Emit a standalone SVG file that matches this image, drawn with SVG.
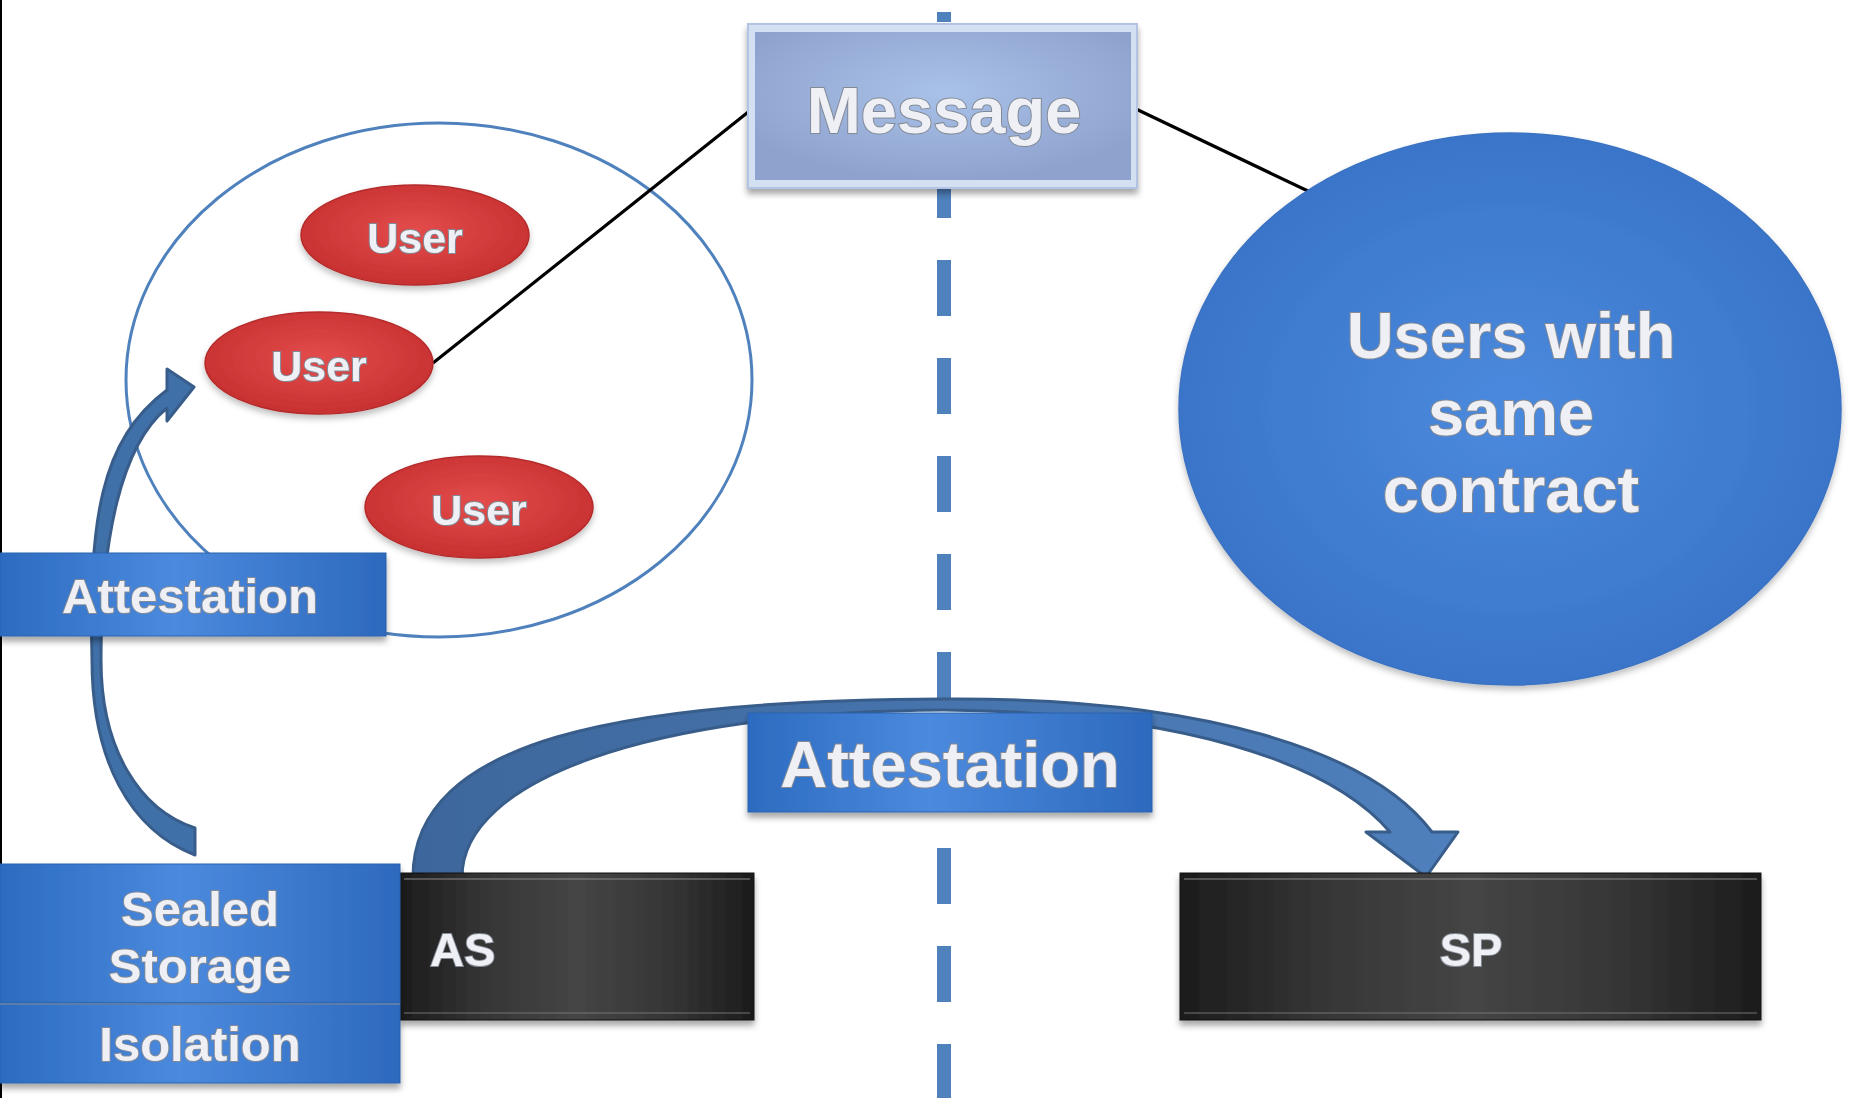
<svg xmlns="http://www.w3.org/2000/svg" width="1851" height="1098" viewBox="0 0 1851 1098">
  <defs>
    <style>
      .lbl { font-family: "Liberation Sans", Arial, sans-serif; font-weight: bold; fill: #eef0f5; stroke: #838a96; stroke-width: 2; paint-order: stroke fill; text-anchor: middle; }
      .conn { stroke: #000; stroke-width: 3.2; fill: none; }
      .dash { stroke: #4f81bd; stroke-width: 14; stroke-dasharray: 56 42; stroke-dashoffset: 46; fill: none; }
      .bluebox { fill: url(#gBlue); stroke: #2c62ad; stroke-width: 1; }
      .darkbox { fill: url(#gDark); stroke: #111; stroke-width: 1; }
      .user { fill: url(#gRed); stroke: #b42c2c; stroke-width: 1.5; }
      .arrow { stroke: #385d8a; stroke-width: 3; stroke-linejoin: round; }
    </style>
    <linearGradient id="gBlue" x1="0" y1="0" x2="1" y2="0">
      <stop offset="0" stop-color="#2c6bc0"/>
      <stop offset="0.45" stop-color="#4b8ade"/>
      <stop offset="1" stop-color="#2d69bd"/>
    </linearGradient>
    <linearGradient id="gDark" x1="0" y1="0" x2="1" y2="0">
      <stop offset="0" stop-color="#1c1c1c"/>
      <stop offset="0.25" stop-color="#363636"/>
      <stop offset="0.5" stop-color="#454545"/>
      <stop offset="0.75" stop-color="#363636"/>
      <stop offset="1" stop-color="#1c1c1c"/>
    </linearGradient>
    <radialGradient id="gRed" cx="0.5" cy="0.45" r="0.55">
      <stop offset="0" stop-color="#e44c4c"/>
      <stop offset="1" stop-color="#c83131"/>
    </radialGradient>
    <radialGradient id="gCircle" cx="0.5" cy="0.5" r="0.5">
      <stop offset="0" stop-color="#4b8ade"/>
      <stop offset="1" stop-color="#3a75c9"/>
    </radialGradient>
    <radialGradient id="gMsg" cx="0.5" cy="0.4" r="0.6">
      <stop offset="0" stop-color="#a9c2e9"/>
      <stop offset="1" stop-color="#8ea2cd"/>
    </radialGradient>
    <linearGradient id="gArc" x1="0" y1="0" x2="1" y2="0">
      <stop offset="0" stop-color="#3d679c"/>
      <stop offset="1" stop-color="#4f80bd"/>
    </linearGradient>
    <filter id="shadow" x="-10%" y="-20%" width="120%" height="150%">
      <feDropShadow dx="0" dy="5" stdDeviation="3" flood-color="#000" flood-opacity="0.35"/>
    </filter>
    <filter id="softShadow" x="-10%" y="-10%" width="120%" height="130%">
      <feDropShadow dx="0" dy="4" stdDeviation="3" flood-color="#000" flood-opacity="0.25"/>
    </filter>
  </defs>

  <rect x="0" y="0" width="1851" height="1098" fill="#fff"/>
  <line x1="1" y1="0" x2="1" y2="1098" stroke="#000" stroke-width="2"/>

  <!-- vertical dashed divider -->
  <g id="divider">
    <line class="dash" x1="944" y1="12" x2="944" y2="1098"/>
  </g>

  <!-- group outline around the users -->
  <g id="user-group">
    <ellipse cx="439" cy="380" rx="313" ry="257" fill="none" stroke="#4f81bd" stroke-width="3"/>
  </g>

  <!-- connectors -->
  <g id="connectors">
    <line class="conn" x1="752" y1="109" x2="433" y2="363"/>
    <line class="conn" x1="1136" y1="109" x2="1310" y2="192"/>
    <!-- curved arrow from Sealed Storage up to the users -->
    <path class="arrow" fill="#4070a8" d="M 195 855 C 130 830, 92 760, 92 660 C 89 520, 100 440, 167 390 L 167 369 L 194 387 L 167 421 L 167 408 C 121 445, 101 540, 101 660 C 101 750, 140 810, 195 828 Z"/>
    <!-- curved arrow from AS over to SP -->
    <path class="arrow" fill="url(#gArc)" d="M 413 877 C 413 740, 620 700, 943 699 C 1200 697, 1370 750, 1432 832 L 1458 832 L 1426 877 L 1366 832 L 1390 832 C 1330 762, 1180 712, 943 710 C 650 712, 462 780, 462 877 Z"/>
  </g>

  <g id="user-1" filter="url(#softShadow)">
    <ellipse class="user" cx="415" cy="235" rx="114" ry="50"/>
    <text class="lbl" x="415" y="253" font-size="43">User</text>
  </g>
  <g id="user-2" filter="url(#softShadow)">
    <ellipse class="user" cx="319" cy="363" rx="114" ry="51"/>
    <text class="lbl" x="319" y="381" font-size="43">User</text>
  </g>
  <g id="user-3" filter="url(#softShadow)">
    <ellipse class="user" cx="479" cy="507" rx="114" ry="51"/>
    <text class="lbl" x="479" y="525" font-size="43">User</text>
  </g>

  <g id="message" filter="url(#shadow)">
    <rect x="748" y="24" width="389" height="164" fill="#d3e0f2" stroke="#b3c4e2" stroke-width="2"/>
    <rect x="755" y="32" width="376" height="148" fill="url(#gMsg)"/>
    <text class="lbl" x="944" y="133" font-size="65">Message</text>
  </g>

  <g id="contract-users" filter="url(#softShadow)">
    <ellipse cx="1510" cy="409" rx="331" ry="276" fill="url(#gCircle)" stroke="#3b72c2" stroke-width="1.5"/>
    <text class="lbl" x="1511" y="358" font-size="65">Users with</text>
    <text class="lbl" x="1511" y="435" font-size="65">same</text>
    <text class="lbl" x="1511" y="512" font-size="65">contract</text>
  </g>

  <g id="attestation-left" filter="url(#shadow)">
    <rect class="bluebox" x="0" y="553" width="386" height="83"/>
    <text class="lbl" x="190" y="613" font-size="49">Attestation</text>
  </g>

  <g id="attestation-mid" filter="url(#shadow)">
    <rect class="bluebox" x="748" y="713" width="404" height="99"/>
    <text class="lbl" x="950" y="787" font-size="65">Attestation</text>
  </g>

  <g id="as" filter="url(#shadow)">
    <rect class="darkbox" x="400" y="873" width="354" height="147"/>
    <line x1="404" y1="879" x2="750" y2="879" stroke="#8a8a8a" stroke-width="2" opacity="0.5"/>
    <line x1="404" y1="1013" x2="750" y2="1013" stroke="#7a7a7a" stroke-width="2" opacity="0.45"/>
    <text class="lbl" x="430" y="966" font-size="47" style="text-anchor:start">AS</text>
  </g>

  <g id="sp" filter="url(#shadow)">
    <rect class="darkbox" x="1180" y="873" width="581" height="147"/>
    <line x1="1184" y1="879" x2="1757" y2="879" stroke="#8a8a8a" stroke-width="2" opacity="0.5"/>
    <line x1="1184" y1="1013" x2="1757" y2="1013" stroke="#7a7a7a" stroke-width="2" opacity="0.45"/>
    <text class="lbl" x="1471" y="966" font-size="47">SP</text>
  </g>

  <g id="sealed-storage" filter="url(#shadow)">
    <rect class="bluebox" x="0" y="864" width="400" height="139"/>
    <text class="lbl" x="200" y="926" font-size="49">Sealed</text>
    <text class="lbl" x="200" y="983" font-size="49">Storage</text>
  </g>

  <g id="isolation" filter="url(#shadow)">
    <rect class="bluebox" x="0" y="1003" width="400" height="80"/>
    <line x1="0" y1="1004" x2="400" y2="1004" stroke="#5a7fae" stroke-width="2"/>
    <text class="lbl" x="200" y="1061" font-size="49">Isolation</text>
  </g>
</svg>
